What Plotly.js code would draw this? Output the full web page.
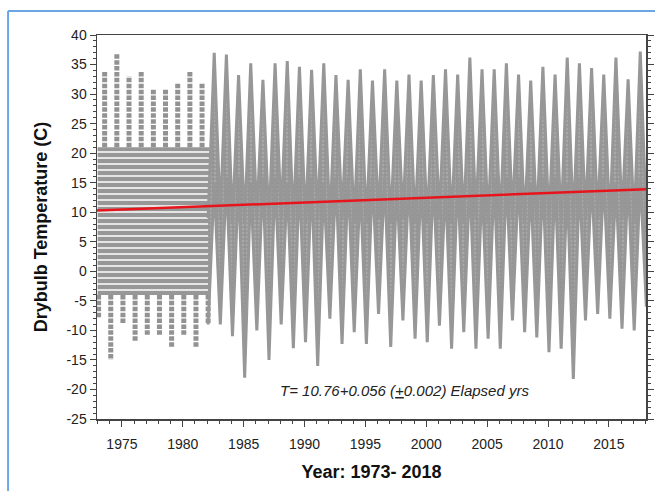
<!DOCTYPE html>
<html>
<head>
<meta charset="utf-8">
<script src="https://cdn.plot.ly/plotly-3.0.1.min.js"></script>
<style>
  html, body { margin: 0; padding: 0; background: #fff; }
  #chart { width: 659px; height: 491px; }
</style>
</head>
<body>
<div id="chart"></div>
<script>
// winter (January) minimum, one per year 1973-2018
var winterYears = [1973, 1974, 1975, 1976, 1977, 1978, 1979, 1980, 1981, 1982,
  1983, 1984, 1985, 1986, 1987, 1988, 1989, 1990, 1991, 1992,
  1993, 1994, 1995, 1996, 1997, 1998, 1999, 2000, 2001, 2002,
  2003, 2004, 2005, 2006, 2007, 2008, 2009, 2010, 2011, 2012,
  2013, 2014, 2015, 2016, 2017, 2018];
var winterMin = [-8, -15, -9, -12, -11, -11, -13, -11, -13, -9,
  -9, -11, -18, -10, -15, -9, -13, -12, -16, -8,
  -12.3, -10.3, -12.3, -7.2, -12.8, -8.3, -11.4, -12, -9.2, -13.1,
  -10.3, -13.1, -11.4, -13.1, -8.3, -10.3, -11.2, -13.7, -13.1, -18.2,
  -8.3, -7.2, -8, -9.7, -10, -6];

// summer (July) maximum, one per year 1973-2017
var summerYears = [1973, 1974, 1975, 1976, 1977, 1978, 1979, 1980, 1981, 1982,
  1983, 1984, 1985, 1986, 1987, 1988, 1989, 1990, 1991, 1992,
  1993, 1994, 1995, 1996, 1997, 1998, 1999, 2000, 2001, 2002,
  2003, 2004, 2005, 2006, 2007, 2008, 2009, 2010, 2011, 2012,
  2013, 2014, 2015, 2016, 2017];
var summerMax = [34, 37, 33, 34, 31, 31, 32, 34, 32, 37,
  36.7, 33.2, 35.2, 32.4, 35.2, 35.6, 34.6, 34.1, 35.2, 33.2,
  32.4, 34.2, 32.3, 34.2, 32.3, 33.3, 32.3, 33.2, 34.2, 33.3,
  36.2, 34.2, 34.2, 35.2, 33.3, 32.3, 34.6, 33.3, 36.2, 35.2,
  34.4, 33.3, 36.2, 32.5, 37.2];

// 1973-1981 (3-hourly, whole degrees): solid core of the cloud
var earlyYears = [1973, 1974, 1975, 1976, 1977, 1978, 1979, 1980, 1981];
var earlyCoreTop = [21, 21, 21, 21, 21, 21, 21, 21, 21];
var earlyCoreBottom = [-4, -4, -4, -4, -4, -4, -4, -4, -4];

// 1982-2018 (hourly): cloud top in winter, cloud bottom in summer
var lateWinterTop = [9,
  9, 8, 8, 9, 8, 9, 8, 8, 9, 8,
  9, 8, 8, 9, 8, 9, 8, 8, 9, 8,
  8, 9, 8, 8, 9, 8, 8, 8, 8, 8,
  9, 9, 8, 9, 8, 8];
var lateSummerLow = [15,
  16, 16, 15, 16, 16, 15, 16, 16, 15, 16,
  16, 15, 16, 16, 15, 16, 16, 16, 15, 16,
  16, 15, 16, 16, 16, 15, 16, 16, 15, 16,
  16, 16, 15, 16, 16];

// fitted trend
var trendYears = [1972.95, 2018.05];
var trendTemp = [10.3, 13.9];

// y tick labels (plain hyphen as in the source)
var tempTicks = [-25, -20, -15, -10, -5, 0, 5, 10, 15, 20, 25, 30, 35, 40];
var tempLabels = ['-25', '-20', '-15', '-10', '-5', '0', '5', '10', '15', '20', '25', '30', '35', '40'];

var grey = '#979797';
var font = 'Liberation Sans, Arial, sans-serif';

function lateEnvelope() {
  var x = [], upper = [], lower = [];
  winterYears.forEach((yr, i) => {
    if (yr < 1982) return;
    var k = yr - 1982;
    x.push(yr + 0.08);
    upper.push(lateWinterTop[k]);
    lower.push(winterMin[i]);
    var j = summerYears.indexOf(yr);
    if (j >= 0) {
      x.push(yr + 0.58);
      upper.push(summerMax[j]);
      lower.push(lateSummerLow[k]);
    }
  });
  return { x: x, upper: upper, lower: lower };
}

function earlyColumns() {
  var x = [], y = [];
  winterYears.forEach((yr, i) => {
    if (yr > 1982) return;
    var k = Math.min(i, earlyYears.length - 1);
    x.push(yr + 0.08, yr + 0.08, null);
    y.push(earlyCoreBottom[k], winterMin[i], null);
    if (yr < 1982) {
      x.push(yr + 0.58, yr + 0.58, null);
      y.push(earlyCoreTop[k], summerMax[summerYears.indexOf(yr)], null);
    }
  });
  return { x: x, y: y };
}

var late = lateEnvelope();
var cols = earlyColumns();
var coreX = earlyYears.concat([1982.2]);
var coreTop = earlyCoreTop.concat([earlyCoreTop[earlyCoreTop.length - 1]]);
var coreBottom = earlyCoreBottom.concat([earlyCoreBottom[earlyCoreBottom.length - 1]]);

var data = [
  {
    x: coreX, y: coreBottom, type: 'scatter', mode: 'lines',
    line: { color: grey, width: 0, shape: 'hv' }, hoverinfo: 'skip', showlegend: false
  },
  {
    x: coreX, y: coreTop, type: 'scatter', mode: 'lines',
    line: { color: grey, width: 0, shape: 'hv' }, fill: 'tonexty', fillcolor: grey,
    fillpattern: { shape: '-', bgcolor: grey, fgcolor: '#ffffff', size: 6, solidity: 0.25, fillmode: 'replace' },
    hoverinfo: 'skip', showlegend: false
  },
  {
    x: cols.x, y: cols.y, type: 'scatter', mode: 'lines', connectgaps: false,
    line: { color: '#929292', width: 5, dash: '4.5px,1.4px' }, hoverinfo: 'skip', showlegend: false
  },
  {
    x: late.x, y: late.lower, type: 'scatter', mode: 'lines',
    line: { color: grey, width: 3 }, hoverinfo: 'skip', showlegend: false
  },
  {
    x: late.x, y: late.upper, type: 'scatter', mode: 'lines',
    line: { color: grey, width: 3 }, fill: 'tonexty', fillcolor: grey,
    fillpattern: { shape: '.', bgcolor: '#939393', fgcolor: '#a8a8a8', size: 4, solidity: 0.45, fillmode: 'replace' },
    hoverinfo: 'skip', showlegend: false
  },
  {
    x: trendYears, y: trendTemp, type: 'scatter', mode: 'lines',
    line: { color: '#e8141c', width: 2.5 }, showlegend: false
  }
];

var layout = {
  width: 659,
  height: 491,
  margin: { l: 97, r: 13, t: 35, b: 72 },
  paper_bgcolor: '#fff',
  plot_bgcolor: '#fff',
  font: { family: font, size: 14, color: '#222' },
  showlegend: false,
  xaxis: {
    range: [1972.95, 2018.05],
    tick0: 1975, dtick: 5,
    ticks: 'outside', ticklen: 6, tickwidth: 1, tickcolor: '#444',
    minor: { dtick: 1, ticks: 'outside', ticklen: 3, tickcolor: '#444' },
    ticklabelstandoff: 6,
    showgrid: false, zeroline: false,
    showline: true, linecolor: '#444', linewidth: 1.5, mirror: true,
    title: { text: '<b>Year: 1973- 2018</b>', font: { family: font, size: 18, color: '#111' }, standoff: 14 }
  },
  yaxis: {
    range: [-25, 40],
    tickmode: 'array', tickvals: tempTicks, ticktext: tempLabels,
    ticks: 'outside', ticklen: 6, tickwidth: 1, tickcolor: '#444',
    minor: { tickmode: 'linear', tick0: -25, dtick: 1, ticks: 'outside', ticklen: 3, tickcolor: '#444' },
    showgrid: false, zeroline: false,
    showline: true, linecolor: '#444', linewidth: 1.5, mirror: 'ticks',
    title: { text: '<b>Drybulb Temperature (C)</b>', font: { family: font, size: 18, color: '#111' }, standoff: 14 }
  },
  annotations: [{
    x: 1998.2, y: -20.2, xref: 'x', yref: 'y',
    text: '<i>T= 10.76+0.056 (<u>+</u>0.002) Elapsed yrs</i>',
    showarrow: false,
    font: { family: font, size: 15, color: '#222' }
  }],
  shapes: [
    { type: 'line', xref: 'paper', yref: 'paper', x0: -0.162, x1: -0.162, y0: 1.0626, y1: -0.2,
      line: { color: '#6aa6e4', width: 2 } },
    { type: 'line', xref: 'paper', yref: 'paper', x0: -0.162, x1: 1.0164, y0: 1.0626, y1: 1.0626,
      line: { color: '#6aa6e4', width: 2 } }
  ]
};

Plotly.newPlot('chart', data, layout, { displayModeBar: false, staticPlot: true });
</script>
</body>
</html>
